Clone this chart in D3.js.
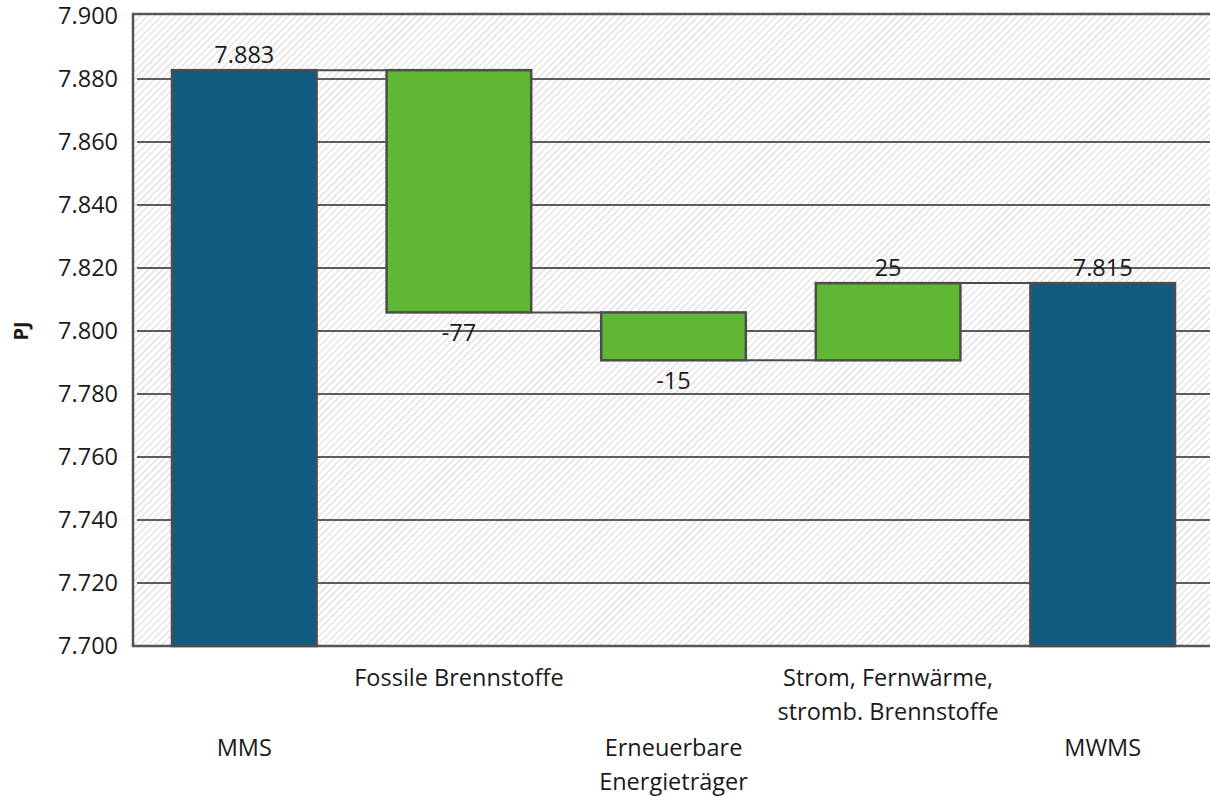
<!DOCTYPE html>
<html>
<head>
<meta charset="utf-8">
<script src="https://cdn.jsdelivr.net/npm/d3@7"></script>
<style>
  body { margin: 0; background: #fff; }
  svg { display: block; font-family: "Open Sans", "Noto Sans", sans-serif; }
</style>
</head>
<body>
<div id="chart"></div>
<script>
// data (PJ)
const categories = ["MMS", "Fossile Brennstoffe", "Erneuerbare Energieträger", "Strom, Fernwärme, stromb. Brennstoffe", "MWMS"];
const labelLines = [["MMS"], ["Fossile Brennstoffe"], ["Erneuerbare", "Energieträger"], ["Strom, Fernwärme,", "stromb. Brennstoffe"], ["MWMS"]];
const startTotal = 7882.8;
const deltas = [-76.9, -15.2, 24.5];
const endTotal = 7815.2;
const yTicks = [7700, 7720, 7740, 7760, 7780, 7800, 7820, 7840, 7860, 7880, 7900];

const width = 1210, height = 796;
const plotLeft = 137, plotRight = 1210, plotTop = 16, plotBottom = 646;
const fontSize = 23.5;

const de = d3.formatLocale({decimal: ",", thousands: ".", grouping: [3], currency: ["", " €"], minus: "-"});
const fmt = de.format(",.0f");

// build waterfall steps
let steps = [];
steps.push({name: categories[0], y0: 7700, y1: startTotal, total: true, label: fmt(startTotal)});
let run = startTotal;
deltas.forEach((d, i) => {
  steps.push({name: categories[i + 1], y0: run, y1: run + d, total: false, value: d, label: fmt(d)});
  run += d;
});
steps.push({name: categories[4], y0: 7700, y1: endTotal, total: true, label: fmt(endTotal)});

const svg = d3.select("#chart").append("svg")
  .attr("width", width).attr("height", height);

const defs = svg.append("defs");
const pat = defs.append("pattern")
  .attr("id", "hatch").attr("patternUnits", "userSpaceOnUse")
  .attr("width", 5).attr("height", 5)
  .attr("patternTransform", "rotate(45)");
pat.append("rect").attr("width", 5).attr("height", 5).attr("fill", "#fff");
pat.append("line").attr("x1", 0).attr("y1", 0).attr("x2", 0).attr("y2", 5)
  .attr("stroke", "#d4d4d4").attr("stroke-width", 1.8);

const x = d3.scaleBand().domain(categories).range([plotLeft, plotRight])
  .paddingInner(0.326).paddingOuter(0.163);
const y = d3.scaleLinear().domain([7700, 7900]).range([plotBottom, plotTop]);

// plot background
svg.append("rect")
  .attr("x", 133).attr("y", plotTop - 2)
  .attr("width", plotRight - 133 + 2).attr("height", plotBottom - plotTop + 2)
  .attr("fill", "url(#hatch)")
  .attr("stroke", "#555").attr("stroke-width", 2.5);

// gridlines
svg.append("g").selectAll("line")
  .data(yTicks.filter(t => t > 7700 && t < 7900))
  .join("line")
  .attr("x1", plotLeft).attr("x2", plotRight)
  .attr("y1", d => y(d)).attr("y2", d => y(d))
  .attr("stroke", "#2a2a2a").attr("stroke-width", 1.5);

// y axis labels
const yAxis = svg.append("g")
  .attr("transform", `translate(${plotLeft - 8},0)`)
  .call(d3.axisLeft(y).tickValues(yTicks).tickFormat(fmt).tickSize(0).tickPadding(11));
yAxis.select(".domain").remove();
yAxis.selectAll("text").attr("font-size", fontSize).attr("fill", "#1a1a1a")
  .attr("font-family", "'Open Sans', sans-serif");

svg.append("text")
  .attr("transform", `translate(28,${(plotTop + plotBottom) / 2}) rotate(-90)`)
  .attr("text-anchor", "middle")
  .attr("font-size", 20).attr("font-weight", "bold").attr("fill", "#1a1a1a")
  .text("PJ");

// connectors between bars at the running total
const conn = [];
for (let i = 0; i < steps.length - 1; i++) {
  conn.push({x1: x(steps[i].name) + x.bandwidth(), x2: x(steps[i + 1].name), v: steps[i].y1});
}
svg.append("g").selectAll("line").data(conn).join("line")
  .attr("x1", d => d.x1).attr("x2", d => d.x2)
  .attr("y1", d => y(d.v)).attr("y2", d => y(d.v))
  .attr("stroke", "#4a4a4a").attr("stroke-width", 2);

// bars
svg.append("g").selectAll("rect").data(steps).join("rect")
  .attr("x", d => x(d.name))
  .attr("y", d => y(Math.max(d.y0, d.y1)))
  .attr("width", x.bandwidth())
  .attr("height", d => Math.abs(y(d.y0) - y(d.y1)))
  .attr("fill", d => d.total ? "#135a80" : "#5fb733")
  .attr("stroke", "#4d4d4d").attr("stroke-width", 2.5);

// value labels
svg.append("g").selectAll("text").data(steps).join("text")
  .attr("x", d => x(d.name) + x.bandwidth() / 2)
  .attr("y", d => {
    if (d.total || d.value > 0) return y(Math.max(d.y0, d.y1)) - 7;
    return y(Math.min(d.y0, d.y1)) + 29;
  })
  .attr("text-anchor", "middle")
  .attr("font-size", fontSize).attr("fill", "#1a1a1a")
  .text(d => d.label);

// category labels (staggered)
const cat = svg.append("g").selectAll("text")
  .data(labelLines).join("text")
  .attr("text-anchor", "middle")
  .attr("font-size", fontSize).attr("fill", "#1a1a1a")
  .attr("transform", (d, i) => `translate(${x(categories[i]) + x.bandwidth() / 2},${i % 2 === 1 ? 686 : 756})`);
cat.selectAll("tspan").data(d => d).join("tspan")
  .attr("x", 0).attr("dy", (d, j) => j === 0 ? 0 : 34)
  .text(d => d);
</script>
</body>
</html>
